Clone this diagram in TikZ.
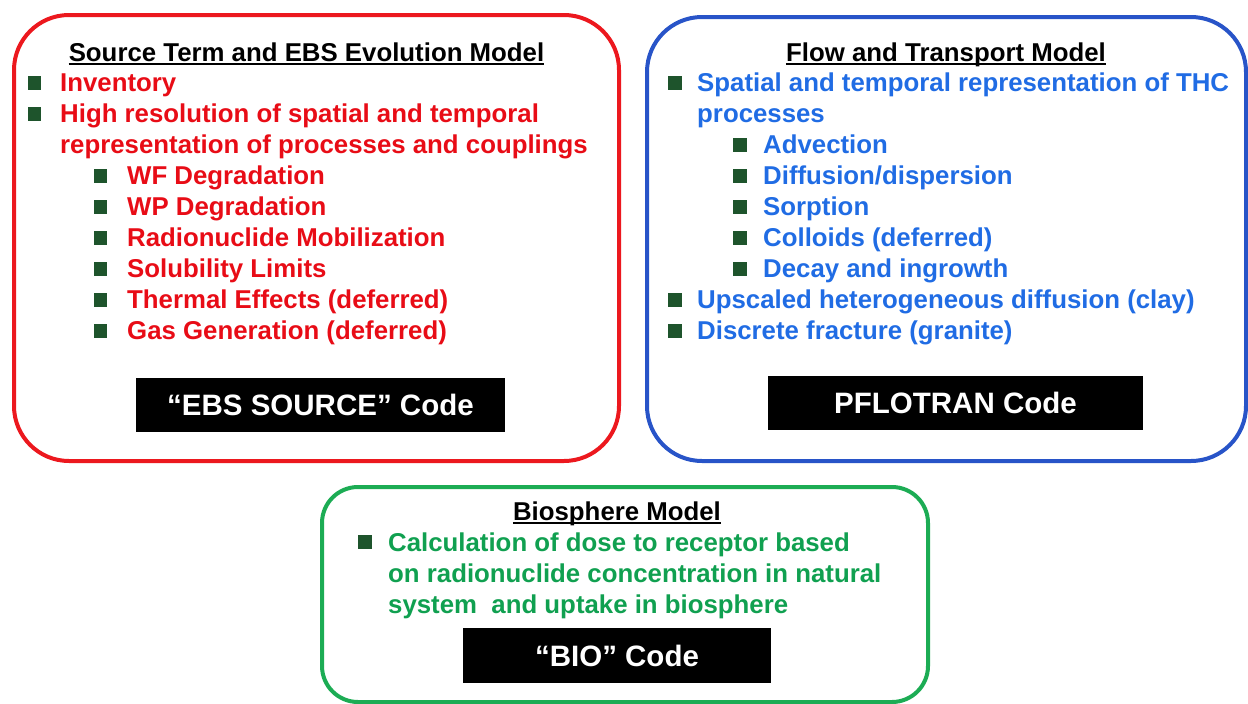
\documentclass[tikz,border=0pt]{standalone}
\usepackage{fontspec}
\setmainfont{Liberation Sans}
\definecolor{srcred}{RGB}{232,12,22}
\definecolor{srcframe}{RGB}{236,24,30}
\definecolor{flowblue}{RGB}{32,108,228}
\definecolor{flowframe}{RGB}{40,84,200}
\definecolor{biogreen}{RGB}{16,160,80}
\definecolor{bioframe}{RGB}{28,172,84}
\definecolor{bulletgreen}{RGB}{30,84,44}

\begin{document}
\begin{tikzpicture}[
  x=1pt, y=-1pt,
  frame/.style={line width=4pt, rounded corners=55pt}, % outer model boxes
  txt/.style={anchor=base west, inner sep=0pt, font=\fontsize{25.8}{31}\selectfont\bfseries},
  head/.style={anchor=base, inner sep=0pt, font=\fontsize{25.8}{31}\selectfont\bfseries, text=black},
  uline/.style={line width=1.5pt, black},
  sq/.style={fill=bulletgreen, minimum size=13.5pt, inner sep=0pt},
  codebox/.style={fill=black, text=white, inner sep=0pt, font=\fontsize{29.5}{34}\selectfont\bfseries}
]
\useasboundingbox (0,0) rectangle (1248,704);

% Source term box
\draw[frame, srcframe] (14,15) rectangle (619,461);
\node[head] (srchead) at (306.5,61) {Source Term and EBS Evolution Model};
\draw[uline] ([yshift=-3pt]srchead.base west) -- ([yshift=-3pt]srchead.base east);

\node[sq] (sb1) at (34.5,83) {};
\node[txt, text=srcred] (s1) at (60,91) {Inventory};
\node[sq] (sb2) at (34.5,114) {};
\node[txt, text=srcred] (s2) at (60,122) {High resolution of spatial and temporal};
\node[txt, text=srcred] (s2b) at (60,153) {representation of processes and couplings};
\node[sq] (sb3) at (100.5,176) {};
\node[txt, text=srcred] (s3) at (127,184) {WF Degradation};
\node[sq] (sb4) at (100.5,207) {};
\node[txt, text=srcred] (s4) at (127,215) {WP Degradation};
\node[sq] (sb5) at (100.5,238) {};
\node[txt, text=srcred] (s5) at (127,246) {Radionuclide Mobilization};
\node[sq] (sb6) at (100.5,269) {};
\node[txt, text=srcred] (s6) at (127,277) {Solubility Limits};
\node[sq] (sb7) at (100.5,300) {};
\node[txt, text=srcred] (s7) at (127,308) {Thermal Effects (deferred)};
\node[sq] (sb8) at (100.5,331) {};
\node[txt, text=srcred] (s8) at (127,339) {Gas Generation (deferred)};

\node[codebox, minimum width=369pt, minimum height=54pt] (ebscode) at (320.5,405) {“EBS SOURCE” Code};

% Flow and transport box
\draw[frame, flowframe] (647,17) rectangle (1246,461);
\node[head] (flowhead) at (946,61) {Flow and Transport Model};
\draw[uline] ([yshift=-3pt]flowhead.base west) -- ([yshift=-3pt]flowhead.base east);

\node[sq] (fb1) at (675,83) {};
\node[txt, text=flowblue] (f1) at (697,91) {Spatial and temporal representation of THC};
\node[txt, text=flowblue] (f1b) at (697,122) {processes};
\node[sq] (fb2) at (740,145) {};
\node[txt, text=flowblue] (f2) at (763,153) {Advection};
\node[sq] (fb3) at (740,176) {};
\node[txt, text=flowblue] (f3) at (763,184) {Diffusion/dispersion};
\node[sq] (fb4) at (740,207) {};
\node[txt, text=flowblue] (f4) at (763,215) {Sorption};
\node[sq] (fb5) at (740,238) {};
\node[txt, text=flowblue] (f5) at (763,246) {Colloids (deferred)};
\node[sq] (fb6) at (740,269) {};
\node[txt, text=flowblue] (f6) at (763,277) {Decay and ingrowth};
\node[sq] (fb7) at (675,300) {};
\node[txt, text=flowblue] (f7) at (697,308) {Upscaled heterogeneous diffusion (clay)};
\node[sq] (fb8) at (675,331) {};
\node[txt, text=flowblue] (f8) at (697,339) {Discrete fracture (granite)};

\node[codebox, minimum width=375pt, minimum height=54pt] (pflocode) at (955.5,403) {PFLOTRAN Code};

% Biosphere box
\draw[frame, bioframe, rounded corners=36pt] (322,487) rectangle (928,702);
\node[head] (biohead) at (617,520) {Biosphere Model};
\draw[uline] ([yshift=-3pt]biohead.base west) -- ([yshift=-3pt]biohead.base east);

\node[sq] (bb1) at (365,542) {};
\node[txt, text=biogreen] (b1) at (388,551) {Calculation of dose to receptor based};
\node[txt, text=biogreen] (b1b) at (388,582) {on radionuclide concentration in natural};
\node[txt, text=biogreen] (b1c) at (388,613) {system~ and uptake in biosphere};

\node[codebox, minimum width=308pt, minimum height=55pt] (biocode) at (617,655.5) {“BIO” Code};

\end{tikzpicture}
\end{document}
